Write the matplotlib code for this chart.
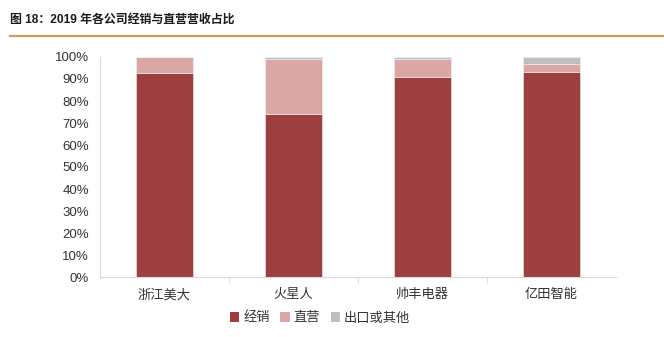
import matplotlib
matplotlib.use("Agg")
import matplotlib.pyplot as plt
from matplotlib.patches import Patch
from matplotlib.ticker import PercentFormatter
import numpy as np

plt.rcParams['font.family'] = ['Noto Sans CJK SC', 'DejaVu Sans']

companies = ["浙江美大", "火星人", "帅丰电器", "亿田智能"]
series_names = ["经销", "直营", "出口或其他"]
distribution = [92.5, 74, 91, 93]
direct = [7.5, 25, 8, 4]
other = [0, 1, 1, 3]
y_ticks = [0, 10, 20, 30, 40, 50, 60, 70, 80, 90, 100]

colors = ["#9C3F3E", "#DAA7A6", "#BFBFBF"]

fig = plt.figure(figsize=(6.64, 3.37), dpi=100)

# Header title and rule
fig.text(10 / 664, 1 - 20 / 337, "图 18：2019 年各公司经销与直营营收占比",
         fontsize=8.6, fontweight="bold", va="center", ha="left", color="#1a1a1a",
         family=["Liberation Sans", "Noto Sans CJK SC"])
fig.add_artist(plt.Line2D([10 / 664, 1.0], [1 - 36 / 337, 1 - 36 / 337],
                          color="#D09B5C", linewidth=1.6))

ax = fig.add_axes([100 / 664, 1 - 277 / 337, 516 / 664, 220 / 337])
x = np.arange(len(companies))
w = 0.44
bottom = np.zeros(len(companies))
for vals, c in zip([distribution, direct, other], colors):
    ax.bar(x, vals, w, bottom=bottom, color=c, edgecolor="#f2f2f2", linewidth=0.4)
    bottom += np.array(vals)

ax.set_xlim(-0.5, 3.5)
ax.set_ylim(0, 100)
ax.set_yticks(y_ticks)
ax.yaxis.set_major_formatter(PercentFormatter(decimals=0))
for lbl in ax.get_yticklabels():
    lbl.set_family("Liberation Sans")
ax.set_xticks(x)
ax.set_xticklabels(companies, fontsize=9.5, color="#333333")
ax.set_xticks(np.arange(0.5, 3.5, 1.0), minor=True)
ax.tick_params(axis="x", which="major", length=0, pad=8)
ax.tick_params(axis="x", which="minor", length=4, color="#D9D9D9", direction="out")
ax.tick_params(axis="y", length=0, labelsize=9.5, labelcolor="#333333", pad=8)
for s in ["top", "right"]:
    ax.spines[s].set_visible(False)
ax.spines["left"].set_color("#D9D9D9")
ax.spines["bottom"].set_color("#D9D9D9")
ax.spines["left"].set_linewidth(0.8)
ax.spines["bottom"].set_linewidth(0.8)

handles = [Patch(facecolor=c, edgecolor="none") for c in colors]
fig.legend(handles, series_names, loc="center", bbox_to_anchor=(320 / 664, 1 - 318 / 337),
           ncol=3, frameon=False, fontsize=9.5, handlelength=0.7, handleheight=0.7,
           handletextpad=0.3, columnspacing=0.8, labelcolor="#333333")

fig.savefig("out.png", dpi=100)
